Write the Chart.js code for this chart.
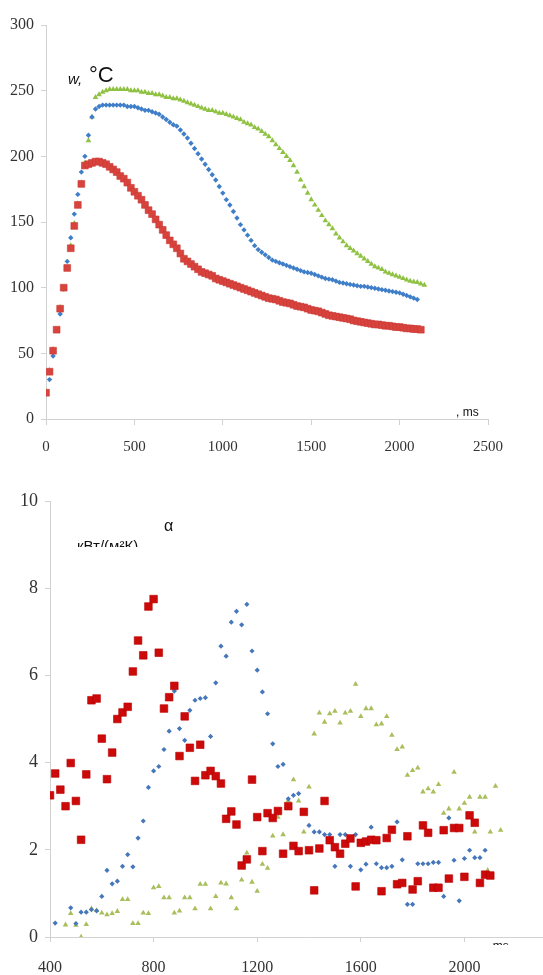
<!DOCTYPE html>
<html><head><meta charset="utf-8">
<script src="https://cdn.jsdelivr.net/npm/chart.js@4.4.1/dist/chart.umd.min.js"></script>
<style>
html,body{margin:0;padding:0;background:#fff;width:543px;height:975px;overflow:hidden;position:relative}
#c1{position:absolute;left:0;top:0;width:543px;height:475px}
#c2{position:absolute;left:0;top:480px;width:600px;height:520px}
</style></head><body>
<canvas id="c1" width="543" height="475"></canvas>
<canvas id="c2" width="600" height="520"></canvas>
<script>
// ---------- Top chart: wall temperature, °C vs time, ms ----------
const tempTime = [0,20,40,60,80,100,120,140,160,180,
200,220,240,260,280,300,320,340,360,380,
400,420,440,460,480,500,520,540,560,580,
600,620,640,660,680,700,720,740,760,780,
800,820,840,860,880,900,920,940,960,980,
1000,1020,1040,1060,1080,1100,1120,1140,1160,1180,
1200,1220,1240,1260,1280,1300,1320,1340,1360,1380,
1400,1420,1440,1460,1480,1500,1520,1540,1560,1580,
1600,1620,1640,1660,1680,1700,1720,1740,1760,1780,
1800,1820,1840,1860,1880,1900,1920,1940,1960,1980,
2000,2020,2040,2060,2080,2100,2120,2140];
const tempRed = [20,36,52,68,84,100,115,130,147,163,
179,193,194,195,196,196,195,194,192,190,
188,185,183,180,176,173,170,167,163,159,
156,152,148,144,140,136,133,130,126,122,
120,118,116,114,112,111,110,109,107,106,
105,104,103,102,101,100,99,98,97,96,
95,94,93,92,91.5,91,90,89,88.5,88,
87,86,85.5,85,84,83,82.5,82,81,80,
79,78.5,78,77.5,77,76.5,76,75,74.5,74,
73.5,73,72.5,72,72,71.5,71,71,70.5,70,
70,69.5,69,69,68.5,68.5,68];
const tempBlue = [19,30,48,68,80,99,120,138,156,171,
188,200,216,230,236,238,239,239,239,239,
239,239,239,238,238,238,237,236,235,235,
234,233,232,230,228,226,224,223,220,217,
214,210,206,202,198,194,190,186,182,177,
172,167,163,158,153,148,144,140,136,132,
129,127,125,123,121,120,119,118,117,116,
115,114,113,112,111.5,111,110,109,108,107,
106.5,106,105,104,103.5,103,102.5,102,101.5,101,
101,100.5,100,99.5,99,98.5,98,97.5,97,96.5,
96,95,94,93,92,91];
const tempGreen = [21,37,53,68,85,100,115,132,149,164,
180,195,212,230,245,247,249,250,251,251,
251,251,251,251,250,250,250,249,249,248,
248,247,247,246,245,245,244,244,243,242,
241,240,239,238,237,236,235,235,234,233,
233,232,231,230,229,228,226,225,224,222,
221,219,217,215,212,209,206,203,200,197,
193,188,182,177,172,167,163,159,155,151,
148,145,141,138,135,132,130,128,126,124,
122,120,118,116,115,114,112,111,110,109,
108,107,106,105,104.5,104,103,102];

// ---------- Bottom chart: heat transfer coefficient α, кВт/(м²К) vs time ----------
const alphaRedT = [400,420,440,460,480,500,520,540,560,580,
600,620,640,660,680,700,720,740,760,780,
800,820,840,860,880,900,920,940,960,980,
1000,1020,1040,1060,1080,1100,1120,1140,1160,1180,
1200,1220,1240,1260,1280,1300,1320,1340,1360,1380,
1400,1420,1440,1460,1480,1500,1520,1540,1560,1580,
1600,1620,1640,1660,1680,1700,1720,1740,1760,1780,
1800,1820,1840,1860,1880,1900,1920,1940,1960,1980,
2000,2020,2040,2060,2080,2100];
const alphaRed = [3.25,3.75,3.38,3.0,3.99,3.12,2.23,3.73,5.43,5.47,
4.55,3.62,4.23,5.0,5.15,5.28,6.09,6.8,6.46,7.58,
7.75,6.52,5.24,5.5,5.76,4.15,5.06,4.34,3.58,4.41,
3.71,3.81,3.69,3.52,2.71,2.88,2.58,1.64,1.78,3.61,
2.75,1.97,2.84,2.73,2.89,1.91,3.0,2.09,1.97,2.87,
1.99,1.07,2.03,3.12,2.22,2.06,1.91,2.14,2.26,1.16,
2.16,2.19,2.23,2.22,1.05,2.27,2.46,1.21,1.24,2.31,
1.09,1.28,2.56,2.39,1.13,1.13,2.45,1.34,2.5,2.5,
1.38,2.79,2.62,1.24,1.43,1.41];
const alphaBlueT = [420,480,500,520,540,560,580,600,620,640,
660,680,700,720,740,760,780,800,820,840,
860,880,900,920,940,960,980,1000,1020,1040,
1060,1080,1100,1120,1140,1160,1180,1200,1220,1240,
1260,1280,1300,1320,1340,1360,1400,1420,1440,1460,
1480,1500,1520,1540,1560,1580,1600,1620,1640,1660,
1680,1700,1720,1740,1760,1780,1800,1820,1840,1860,
1880,1900,1920,1940,1960,1980,2000,2020,2040,2060,2080];
const alphaBlue = [0.32,0.67,0.31,0.57,0.57,0.63,0.6,0.93,1.53,1.22,
1.28,1.62,1.89,1.61,2.27,2.66,3.43,3.81,3.91,4.3,
4.72,5.64,4.78,4.51,5.2,5.43,5.47,5.49,4.6,5.83,
6.67,6.44,7.22,7.47,7.16,7.63,6.56,6.12,5.62,5.12,
4.43,3.91,3.96,3.17,3.25,3.29,2.56,2.41,2.41,2.35,
2.35,1.62,2.35,2.35,1.62,2.35,1.54,1.67,2.52,1.68,
1.59,1.59,1.62,2.64,1.77,0.75,0.75,1.68,1.68,1.68,
1.71,1.71,0.93,2.73,1.76,0.83,1.8,1.99,1.82,1.82,1.99];
const alphaGreenT = [460,480,500,520,540,560,580,600,620,640,
660,680,700,720,740,760,780,800,820,840,
860,880,900,920,940,960,980,1000,1020,1040,
1060,1080,1100,1120,1140,1160,1180,1200,1220,1240,
1260,1280,1300,1320,1340,1360,1380,1400,1420,1440,
1460,1480,1500,1520,1540,1560,1580,1600,1620,1640,
1660,1680,1700,1720,1740,1760,1780,1800,1820,1840,
1860,1880,1900,1920,1940,1960,1980,2000,2020,2040,
2060,2080,2090,2100,2120,2140];
const alphaGreen = [0.28,0.54,0.27,0.0,0.29,0.65,0.61,0.55,0.51,0.54,
0.59,0.86,0.86,0.31,0.31,0.55,0.54,1.13,1.16,0.9,
0.9,0.55,0.6,0.9,0.9,0.65,1.21,1.21,0.65,0.93,
1.24,1.22,0.9,0.65,1.31,1.93,1.26,1.05,1.67,1.58,
2.32,2.75,2.35,3.13,3.61,3.12,2.41,3.44,4.66,5.14,
4.93,5.12,5.18,4.91,5.14,5.18,5.8,5.06,5.24,5.24,
4.87,4.89,5.06,4.63,4.3,4.36,3.71,3.82,3.88,3.33,
3.4,3.33,3.5,2.84,2.94,3.78,2.94,3.07,3.21,2.41,
3.21,3.21,1.53,2.41,3.46,2.45];

const pairs = (xs, ys) => ys.map((y, i) => ({x: xs[i], y: y}));
const plain = v => String(v);
const serif = "'Liberation Serif','Times New Roman',serif";
const sans = "'Liberation Sans','Open Sans',sans-serif";
const axisGray = '#d2d2d2';

const topText = {
  id: 'topText',
  afterDraw(chart) {
    const ctx = chart.ctx;
    ctx.save();
    ctx.fillStyle = '#111';
    ctx.textBaseline = 'alphabetic';
    ctx.font = "italic 15px " + sans;
    ctx.fillText('w,', 68, 84);
    ctx.font = "22px " + sans;
    ctx.fillText('°C', 89, 82);
    ctx.font = "12px " + sans;
    ctx.fillText(', ms', 456, 416);
    ctx.restore();
  }
};

const bottomText = {
  id: 'bottomText',
  afterDraw(chart) {
    const ctx = chart.ctx;
    ctx.save();
    ctx.fillStyle = '#111';
    ctx.textBaseline = 'alphabetic';
    ctx.font = "16px " + sans;
    ctx.fillText('α', 164, 51);
    ctx.save();
    ctx.beginPath(); ctx.rect(60, 40, 120, 27); ctx.clip();
    ctx.font = "15px " + sans;
    ctx.fillText('кВт/(м²К)', 77, 71);
    ctx.restore();
    ctx.save();
    ctx.beginPath(); ctx.rect(470, 455, 60, 10); ctx.clip();
    ctx.font = "12px " + sans;
    ctx.fillText(', ms', 486, 470);
    ctx.restore();
    ctx.restore();
  }
};

new Chart(document.getElementById('c1'), {
  type: 'scatter',
  data: { datasets: [
    { label: 'red', data: pairs(tempTime, tempRed), pointStyle: 'rect', pointRadius: 4.8,
      backgroundColor: '#D8433D', borderColor: '#C93A35', borderWidth: 0.6 },
    { label: 'blue', data: pairs(tempTime, tempBlue), pointStyle: 'rectRot', pointRadius: 2.7,
      backgroundColor: '#3F7EC8', borderColor: '#3F7EC8', borderWidth: 0 },
    { label: 'green', data: pairs(tempTime, tempGreen), pointStyle: 'triangle', pointRadius: 3.3,
      backgroundColor: '#8FC142', borderColor: '#8FC142', borderWidth: 0 }
  ]},
  options: {
    responsive: false, animation: false, devicePixelRatio: 1,
    layout: { padding: { left: 0, top: 25, right: 55, bottom: 0 } },
    plugins: { legend: { display: false }, tooltip: { enabled: false } },
    scales: {
      x: { type: 'linear', min: 0, max: 2500,
        ticks: { stepSize: 500, callback: plain, font: { family: serif, size: 15 }, color: '#333', padding: 13, maxRotation: 0 },
        grid: { drawOnChartArea: false, tickLength: 6, color: axisGray },
        border: { color: axisGray },
        afterFit: s => { s.height = 56; } },
      y: { min: 0, max: 300,
        ticks: { stepSize: 50, callback: plain, font: { family: serif, size: 16 }, color: '#333', padding: 7 },
        grid: { drawOnChartArea: false, tickLength: 5, color: axisGray },
        border: { color: axisGray },
        afterFit: s => { s.width = 46; } }
    }
  },
  plugins: [topText]
});

new Chart(document.getElementById('c2'), {
  type: 'scatter',
  data: { datasets: [
    { label: 'red', data: pairs(alphaRedT, alphaRed), pointStyle: 'rect', pointRadius: 5.4,
      backgroundColor: '#CC0A0A', borderColor: '#B80000', borderWidth: 0.6 },
    { label: 'blue', data: pairs(alphaBlueT, alphaBlue), pointStyle: 'rectRot', pointRadius: 2.6,
      backgroundColor: '#4677BA', borderColor: '#4677BA', borderWidth: 0 },
    { label: 'green', data: pairs(alphaGreenT, alphaGreen), pointStyle: 'triangle', pointRadius: 3.2,
      backgroundColor: '#A9BE5C', borderColor: '#A9BE5C', borderWidth: 0 }
  ]},
  options: {
    responsive: false, animation: false, devicePixelRatio: 1,
    layout: { padding: { left: 0, top: 21, right: 21, bottom: 0 } },
    plugins: { legend: { display: false }, tooltip: { enabled: false } },
    scales: {
      x: { type: 'linear', min: 400, max: 2400,
        ticks: { stepSize: 400, callback: plain, font: { family: serif, size: 16 }, color: '#333', padding: 16, maxRotation: 0 },
        grid: { drawOnChartArea: false, tickLength: 5, color: axisGray },
        border: { color: axisGray },
        afterFit: s => { s.height = 63; } },
      y: { min: 0, max: 10,
        ticks: { stepSize: 2, callback: plain, font: { family: serif, size: 18 }, color: '#333', padding: 7 },
        grid: { drawOnChartArea: false, tickLength: 5, color: axisGray },
        border: { color: axisGray },
        afterFit: s => { s.width = 50; } }
    }
  },
  plugins: [bottomText]
});
</script>
</body></html>
